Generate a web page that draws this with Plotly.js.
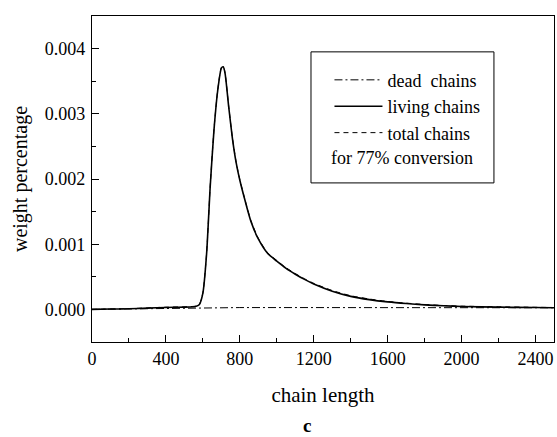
<!DOCTYPE html>
<html>
<head>
<meta charset="utf-8">
<script src="https://cdn.plot.ly/plotly-3.0.1.min.js"></script>
<style>
  html, body { margin: 0; padding: 0; background: #ffffff; }
  #chart { width: 557px; height: 437px; }
</style>
</head>
<body>
<div id="chart"></div>
<script>
// Chain length distribution at 77% conversion

// living chains
const livingLength = [0, 100, 200, 300, 400, 500, 560, 580, 600, 620, 640, 660, 680, 700, 710, 720, 740, 760, 780, 800, 830, 860, 900, 950, 1000, 1050, 1100, 1150, 1200, 1300, 1400, 1500, 1600, 1700, 1800, 1900, 2000, 2200, 2400, 2500];
const livingWeight = [0.0, 0.000005, 0.00001, 0.00002, 0.00003, 0.000035, 0.000045, 0.00007, 0.00025, 0.00085, 0.0019, 0.00275, 0.00335, 0.0037, 0.00372, 0.00362, 0.0031, 0.00262, 0.00225, 0.00198, 0.00165, 0.00135, 0.00108, 0.00086, 0.00074, 0.00063, 0.00054, 0.00046, 0.00039, 0.00028, 0.0002, 0.00015, 0.000115, 0.00009, 0.00007, 0.000055, 0.000045, 0.000035, 0.000028, 0.000025];

// dead chains
const deadLength = [0, 200, 400, 600, 800, 1200, 1600, 2000, 2500];
const deadWeight = [0.0, 0.000008, 0.000018, 0.000025, 0.000028, 0.000028, 0.000027, 0.000026, 0.000025];

// total chains
const totalLength = [0, 100, 200, 300, 400, 500, 560, 580, 600, 620, 640, 660, 680, 700, 710, 720, 740, 760, 780, 800, 830, 860, 900, 950, 1000, 1050, 1100, 1150, 1200, 1300, 1400, 1500, 1600, 1700, 1800, 1900, 2000, 2200, 2400, 2500];
const totalWeight = [0.0, 0.000006, 0.000012, 0.000023, 0.000034, 0.00004, 0.00005, 0.000075, 0.000255, 0.000855, 0.00191, 0.00276, 0.00336, 0.00371, 0.00373, 0.00363, 0.00311, 0.00263, 0.00226, 0.00199, 0.00166, 0.00136, 0.00109, 0.00087, 0.00075, 0.00064, 0.00055, 0.00047, 0.0004, 0.00029, 0.00021, 0.00016, 0.000122, 0.000096, 0.000076, 0.00006, 0.00005, 0.00004, 0.000032, 0.000029];

const xTickValues = [0, 400, 800, 1200, 1600, 2000, 2400];
const yTickValues = [0, 0.001, 0.002, 0.003, 0.004];

const serif = 'Liberation Serif, Times New Roman, Times, serif';

const traces = [
  {
    x: deadLength, y: deadWeight, name: 'dead  chains', type: 'scatter', mode: 'lines',
    line: { color: '#000', width: 1, dash: '8px,3px,2px,3px' },
    legendrank: 1
  },
  {
    x: totalLength, y: totalWeight, name: 'total chains', type: 'scatter', mode: 'lines',
    line: { color: '#000', width: 1, dash: '5px,4px', shape: 'spline', smoothing: 0.6 },
    legendrank: 3
  },
  {
    x: livingLength, y: livingWeight, name: 'living chains', type: 'scatter', mode: 'lines',
    line: { color: '#000', width: 1.6, shape: 'spline', smoothing: 0.6 },
    legendrank: 2
  }
];

const axisCommon = {
  showline: true, linecolor: '#000', linewidth: 1.2, mirror: true,
  ticks: 'inside', ticklen: 7, tickwidth: 1, tickcolor: '#000',
  showgrid: false, zeroline: false,
  tickfont: { family: serif, size: 18, color: '#000' }
};

const layout = {
  width: 557, height: 437,
  margin: { l: 92, r: 3, t: 16, b: 95 },
  paper_bgcolor: '#fff', plot_bgcolor: '#fff',
  font: { family: serif, color: '#000', size: 18 },
  showlegend: true,
  legend: {
    x: 0.514, xanchor: 'left', y: 0.86, yanchor: 'top',
    bgcolor: 'rgba(0,0,0,0)', borderwidth: 0,
    itemwidth: 48,
    traceorder: 'normal',
    font: { family: serif, size: 18, color: '#000' }
  },
  xaxis: Object.assign({}, axisCommon, {
    range: [0, 2500],
    tickvals: xTickValues,
    ticktext: xTickValues.map(String),
    minor: { ticks: 'inside', ticklen: 4, dtick: 200, tick0: 0, tickcolor: '#000' },
    ticklabelstandoff: 0,
    title: { text: 'chain length', font: { family: serif, size: 21, color: '#000' }, standoff: 19 }
  }),
  yaxis: Object.assign({}, axisCommon, {
    range: [-0.0005, 0.0045],
    tickvals: yTickValues,
    ticktext: yTickValues.map(v => v.toFixed(3)),
    minor: { ticks: 'inside', ticklen: 4, dtick: 0.0005, tick0: 0, tickcolor: '#000' },
    ticklabelstandoff: 2,
    title: { text: 'weight percentage', font: { family: serif, size: 20, color: '#000' }, standoff: 11 }
  }),
  shapes: [
    {
      type: 'rect', xref: 'paper', yref: 'paper',
      x0: 0.474, x1: 0.870, y0: 0.488, y1: 0.890,
      line: { color: '#000', width: 1 }, fillcolor: 'rgba(0,0,0,0)'
    }
  ],
  annotations: [
    {
      text: 'for 77% conversion', xref: 'paper', yref: 'paper',
      x: 0.514, xanchor: 'left', y: 0.564, yanchor: 'middle',
      showarrow: false, font: { family: serif, size: 18, color: '#000' }
    },
    {
      text: '<b>c</b>', xref: 'paper', yref: 'paper',
      x: 0.465, xanchor: 'center', y: -0.2914, yanchor: 'bottom',
      borderpad: 0,
      showarrow: false, font: { family: serif, size: 19, color: '#000' }
    }
  ]
};

Plotly.newPlot('chart', traces, layout, { displayModeBar: false, staticPlot: true });
</script>
</body>
</html>
